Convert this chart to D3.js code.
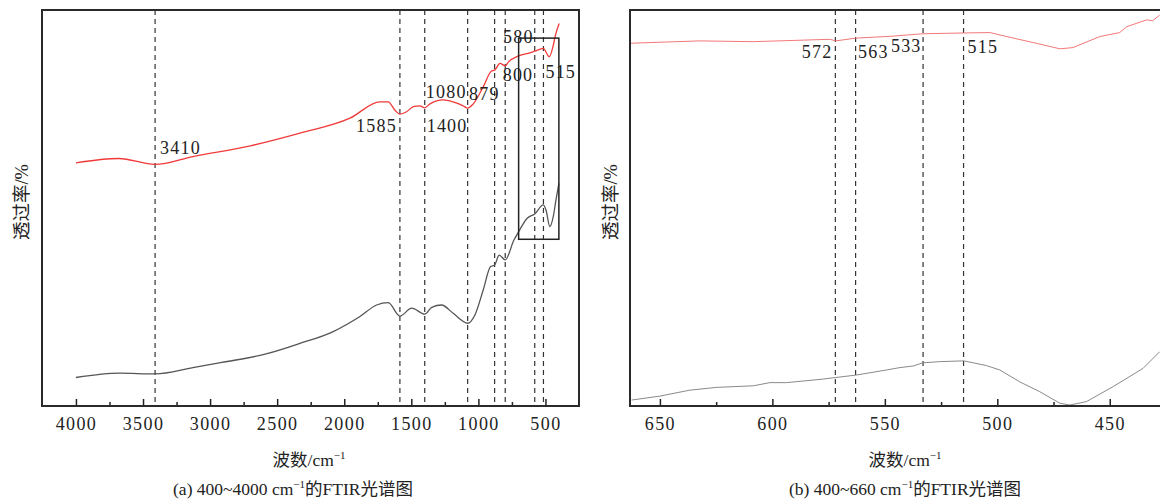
<!DOCTYPE html>
<html lang="zh">
<head>
<meta charset="UTF-8" />
<title>FTIR</title>
<script src="https://d3js.org/d3.v7.min.js"></script>
<style>
  body { margin: 0; background: #fff; }
  text { font-family: "Liberation Serif", "Noto Sans CJK SC", serif; fill: #222; }
</style>
</head>
<body>
<div id="chart"></div>
<script>
// ---- data (a) 400~4000 cm-1 ----
var redWnA = [4000, 3680, 3410, 3128, 2700, 2330, 1957, 1734, 1672, 1622, 1585, 1535, 1485, 1436, 1400, 1361,
  1262, 1188, 1113, 1080, 1038, 964, 902, 879, 839, 800, 775, 700, 616, 580, 516, 472, 443, 428, 398];
var redTA = [61.4, 62.5, 61.0, 63.0, 65.7, 68.9, 72.7, 76.8, 76.8, 74.7, 73.7, 74.3, 75.6, 75.8, 75.3, 76.3,
  77.3, 76.8, 75.8, 75.2, 76.3, 80.6, 84.6, 84.8, 86.5, 85.9, 86.9, 88.4, 89.2, 89.6, 90.3, 88.2, 90.9, 93.3, 96.6];
var grayWnA = [4000, 3672, 3410, 3128, 2912, 2576, 2330, 2082, 1883, 1759, 1672, 1585, 1497, 1400, 1348, 1274,
  1188, 1080, 1026, 964, 909, 879, 845, 800, 735, 700, 636, 580, 516, 496, 467, 442, 422, 400];
var grayTA = [7.2, 8.3, 8.1, 9.7, 11.0, 13.2, 15.8, 18.8, 22.6, 25.5, 26.1, 22.7, 24.7, 23.2, 24.9, 25.5,
  23.4, 20.9, 23.0, 29.3, 35.2, 35.6, 38.1, 36.9, 41.9, 44.0, 47.4, 48.5, 50.8, 49.5, 45.3, 47.8, 52.0, 56.2];
var peaksA = [3410, 1585, 1400, 1080, 879, 800, 580, 515];
var ticksA = [4000, 3500, 3000, 2500, 2000, 1500, 1000, 500];
var zoomBox = [700, 400, 42.1, 92.9]; // wn from, wn to, T low, T high

// ---- data (b) 400~660 cm-1 ----
var redWnB = [663.3, 632.2, 608.7, 574.4, 571.8, 562.9, 546.4, 533.1, 514.9, 503.3, 494.4, 484.2, 472.2, 466.4,
  454.4, 445.6, 442.4, 433.6, 430.9, 427.8];
var redTB = [91.6, 92.2, 92.0, 92.6, 92.2, 92.9, 93.4, 94.0, 94.2, 94.3, 93.1, 91.8, 90.2, 90.5,
  93.3, 94.3, 95.8, 97.5, 97.3, 98.7];
var grayWnB = [662.6, 650, 636.7, 624.8, 608.5, 601.1, 593.7, 577.4, 571.8, 562.9, 549.2, 543.3, 537.4, 533.1,
  525.6, 514.9, 504.8, 498.9, 490, 481.1, 472.2, 467.8, 460.4, 448.5, 435.2, 427.8];
var grayTB = [1.5, 2.5, 4.0, 4.7, 5.1, 5.9, 5.9, 6.8, 7.2, 7.8, 9.1, 9.7, 10.1, 10.9,
  11.2, 11.4, 10.2, 9.1, 6.1, 3.6, 0.7, 0.25, 1.1, 4.9, 9.5, 13.7];
var peaksB = [572, 563, 533, 515];
var ticksB = [650, 600, 550, 500, 450];

var W = 1160, H = 502;
var svg = d3.select("#chart").append("svg").attr("width", W).attr("height", H);

function drawPanel(p) {
  var x = d3.scaleLinear().domain(p.domain).range([p.left, p.right]);
  var y = d3.scaleLinear().domain([0, 100]).range([406, 10]);
  var g = svg.append("g");

  // dashed guide lines
  g.selectAll("line.peak").data(p.peaks).enter().append("line")
    .attr("x1", d => x(d)).attr("x2", d => x(d))
    .attr("y1", 10).attr("y2", 406)
    .attr("stroke", "#333").attr("stroke-width", 1.2).attr("stroke-dasharray", "5,4");

  // curves
  var line = d3.line().x(d => x(d[0])).y(d => y(d[1])).curve(p.curve);
  g.append("path").datum(d3.zip(p.redWn, p.redT)).attr("d", line)
    .attr("fill", "none").attr("stroke", p.redColor).attr("stroke-width", p.lw);
  g.append("path").datum(d3.zip(p.grayWn, p.grayT)).attr("d", line)
    .attr("fill", "none").attr("stroke", p.grayColor).attr("stroke-width", p.lw);

  // peak labels
  g.selectAll("text.lab").data(p.labels).enter().append("text")
    .attr("x", d => x(d.wn) + d.dx).attr("y", d => y(d.t))
    .attr("text-anchor", d => d.anchor)
    .style("font-size", "18px").style("letter-spacing", "1.2px")
    .text(d => d.wn);

  // axes (inward ticks)
  var major = d3.axisBottom(x).tickValues(p.ticks).tickFormat(d3.format("d"))
    .tickSizeInner(-7).tickSizeOuter(0).tickPadding(11);
  var minor = d3.axisBottom(x).tickValues(p.minor).tickSizeInner(-4).tickSizeOuter(0).tickFormat("");
  var ax = g.append("g").attr("transform", "translate(0,406)").call(major);
  g.append("g").attr("transform", "translate(0,406)").call(minor);
  g.selectAll(".domain").remove();
  g.selectAll(".tick line").attr("stroke", "#222").attr("stroke-width", 1.5);
  ax.selectAll(".tick text").style("font-size", "18px").style("letter-spacing", "1.4px")
    .style("font-family", "Liberation Serif").attr("fill", "#222");

  // frame
  g.append("rect").attr("x", p.left).attr("y", 10).attr("width", p.right - p.left).attr("height", 396)
    .attr("fill", "none").attr("stroke", "#2a2a2a").attr("stroke-width", 2);

  // titles
  var xt = g.append("text").attr("x", p.titleX).attr("y", 466).attr("text-anchor", "middle")
    .style("font-size", "17.5px");
  xt.append("tspan").text("波数/cm");
  xt.append("tspan").attr("dy", -7).style("font-size", "11px").text("−1");

  var cap = g.append("text").attr("x", p.capX).attr("y", 495).attr("text-anchor", "middle")
    .style("font-size", "17.5px");
  cap.append("tspan").text(p.capA);
  cap.append("tspan").attr("dy", -7).style("font-size", "11px").text("−1");
  cap.append("tspan").attr("dy", 7).text("的FTIR光谱图");

  g.append("text").attr("transform", "translate(" + p.yTitleX + ",202) rotate(-90)")
    .attr("text-anchor", "middle").style("font-size", "18.5px").text("透过率/%");

  return { g: g, x: x, y: y };
}

var a = drawPanel({
  domain: [4253, 250], left: 42, right: 579,
  peaks: peaksA, ticks: ticksA, minor: d3.range(3750, 250, -500),
  redWn: redWnA, redT: redTA, grayWn: grayWnA, grayT: grayTA,
  redColor: "#f03a3a", grayColor: "#555", lw: 1.3, curve: d3.curveMonotoneX,
  labels: [
    { wn: 3410, dx: 5, t: 63.6, anchor: "start" },
    { wn: 1585, dx: -3, t: 69.3, anchor: "end" },
    { wn: 1400, dx: 2, t: 69.3, anchor: "start" },
    { wn: 1080, dx: -1, t: 77.9, anchor: "end" },
    { wn: 879, dx: 5, t: 77.3, anchor: "end" },
    { wn: 800, dx: -2.5, t: 82.1, anchor: "start" },
    { wn: 580, dx: -1, t: 91.6, anchor: "end" },
    { wn: 515, dx: 2, t: 82.9, anchor: "start" }
  ],
  titleX: 309, capX: 293, capA: "(a) 400~4000 cm", yTitleX: 28
});

// zoom box in panel (a)
a.g.append("rect")
  .attr("x", a.x(zoomBox[0])).attr("y", a.y(zoomBox[3]))
  .attr("width", a.x(zoomBox[1]) - a.x(zoomBox[0])).attr("height", a.y(zoomBox[2]) - a.y(zoomBox[3]))
  .attr("fill", "none").attr("stroke", "#222").attr("stroke-width", 1.5);

drawPanel({
  domain: [663.3, 425], left: 630, right: 1166,
  peaks: peaksB, ticks: ticksB, minor: [625, 575, 525, 475],
  redWn: redWnB, redT: redTB, grayWn: grayWnB, grayT: grayTB,
  redColor: "#f27878", grayColor: "#8a8a8a", lw: 1, curve: d3.curveLinear,
  labels: [
    { wn: 572, dx: -3, t: 88.0, anchor: "end" },
    { wn: 563, dx: 2.5, t: 88.0, anchor: "start" },
    { wn: 533, dx: -1.5, t: 89.5, anchor: "end" },
    { wn: 515, dx: 4, t: 89.2, anchor: "start" }
  ],
  titleX: 905, capX: 905, capA: "(b) 400~660 cm", yTitleX: 617
});
</script>
</body>
</html>
